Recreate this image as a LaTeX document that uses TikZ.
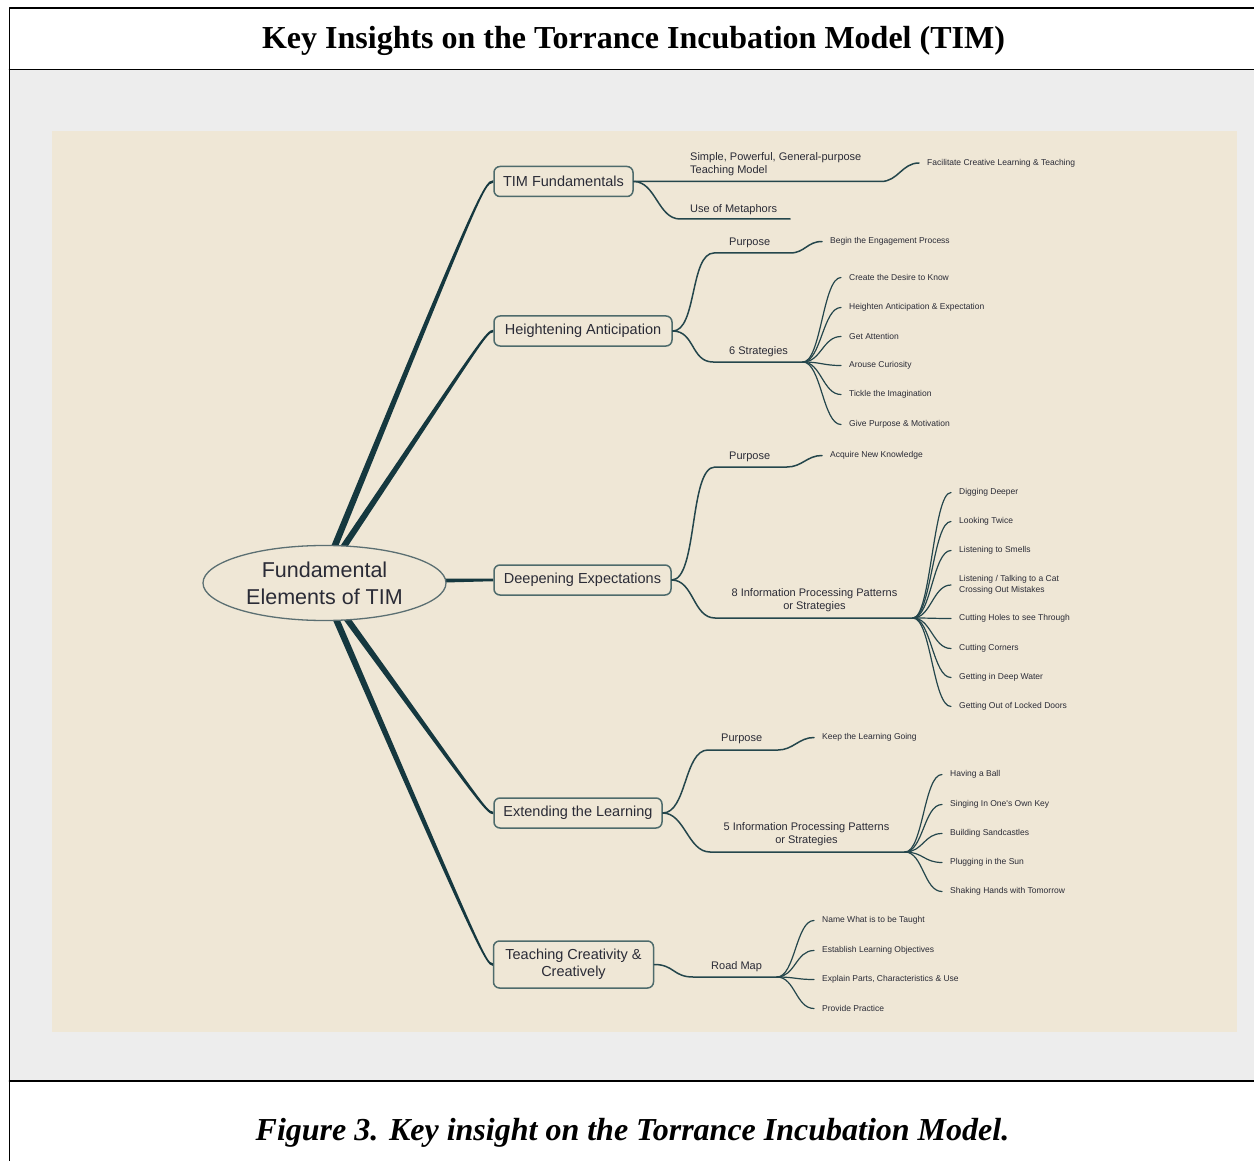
\documentclass[tikz,border=0pt]{standalone}
\usepackage{fontspec}
\setmainfont{Liberation Serif}
\newfontfamily\mmfont{Liberation Sans}
\usetikzlibrary{calc,shapes.geometric}

\definecolor{panelgray}{HTML}{EDEDED}
\definecolor{paper}{HTML}{EFE7D6}
\definecolor{trunkcol}{HTML}{15383F}
\definecolor{twigcol}{HTML}{24464C}
\definecolor{boxline}{HTML}{4E6B6C}
\definecolor{ellline}{HTML}{5B6F72}
\definecolor{inkcol}{HTML}{2A2B36}

\pgfdeclarelayer{background}
\pgfsetlayers{background,main}

% tapered main branch: origin, first control, second control, end
\newcommand\trunk[4]{%
  \fill[trunkcol]
    ($(#1)!3.4pt!90:(#2)$)
    .. controls ($(#2)!1.9pt!-90:(#1)$) and ($(#3)!1.4pt!90:(#4)$) ..
    ($(#4)!1.3pt!-90:(#3)$)
    -- ($(#4)!1.3pt!90:(#3)$)
    .. controls ($(#3)!1.4pt!-90:(#4)$) and ($(#2)!1.9pt!90:(#1)$) ..
    ($(#1)!3.4pt!-90:(#2)$) -- cycle;}

\tikzset{
  frame/.style={draw=black, line width=1.6pt},
  rootnode/.style={ellipse, draw=ellline, line width=1.3pt, fill=paper,
    minimum width=243pt, minimum height=75pt, inner sep=0pt, align=center,
    font=\mmfont\fontsize{21.5}{27}\selectfont, text=inkcol},
  box/.style={draw=boxline, line width=1.5pt, rounded corners=6pt, fill=paper,
    inner sep=0pt, minimum height=30pt, align=center,
    font=\mmfont\fontsize{14.5}{17}\selectfont, text=inkcol},
  lbl/.style={inner sep=0pt, font=\mmfont\fontsize{11}{13}\selectfont, text=inkcol},
  leaf/.style={anchor=west, inner xsep=8pt, inner ysep=0pt, align=left,
    font=\mmfont\fontsize{8.5}{11}\selectfont, text=inkcol},
  twig/.style={draw=twigcol, line width=1.5pt},
  leaftwig/.style={draw=twigcol, line width=1.2pt}
}

\begin{document}
\begin{tikzpicture}[x=1pt, y=-1pt, line cap=round, line join=round]
\useasboundingbox (0,0) rectangle (1254,1161);

\begin{pgfonlayer}{background}
  \fill[white] (0,0) rectangle (1254,1161);
  \fill[panelgray] (9.5,69.5) rectangle (1254,1081);
  \fill[paper] (52,131) rectangle (1237,1032);
\end{pgfonlayer}

% page frame
\draw[frame] (1254,8) -- (9.5,8) -- (9.5,1161);
\draw[frame] (9.5,69.5) -- (1254,69.5);
\draw[frame] (9.5,1081) -- (1254,1081);

\node[font=\fontsize{32}{36}\selectfont\bfseries] (title) at (633.5,40.5)
  {Key Insights on the Torrance Incubation Model (TIM)};
\node[font=\fontsize{32}{36}\selectfont\bfseries\itshape] (caption) at (632.5,1132.5)
  {Figure 3. Key insight on the Torrance Incubation Model.};

% central topic and main topics
\node[rootnode] (root) at (324.5,583) {Fundamental\\Elements of TIM};
\coordinate (hub) at (320,582);

\node[box, minimum width=139pt] (b1) at (563.5,181.5) {TIM Fundamentals};
\node[box, minimum width=178pt] (b2) at (583,331) {Heightening Anticipation};
\node[box, minimum width=177pt] (b3) at (582.5,580) {Deepening Expectations};
\node[box, minimum width=168pt] (b4) at (578,813) {Extending the Learning};
\node[box, minimum width=160pt, minimum height=47pt] (b5) at (573.5,964.5)
  {Teaching Creativity \&\\Creatively};

\begin{pgfonlayer}{background}
  \trunk{hub}{478,196}{484,181.5}{b1.west}
  \trunk{hub}{479,345}{486,331}{b2.west}
  \trunk{hub}{460,580.5}{480,580}{b3.west}
  \trunk{hub}{479,800}{486,813}{b4.west}
  \trunk{hub}{480,952}{486,964.5}{b5.west}
\end{pgfonlayer}

% subtopic labels
\node[lbl, anchor=west, align=left] (t1) at (690,164) {Simple, Powerful, General-purpose\\Teaching Model};
\node[lbl, anchor=west] (t2) at (690,209.5) {Use of Metaphors};
\node[lbl, anchor=west] (h1) at (729,242.5) {Purpose};
\node[lbl, anchor=west] (h2) at (729,351.5) {6 Strategies};
\node[lbl, anchor=west] (d1) at (729,456.5) {Purpose};
\node[lbl, align=center] (d2) at (814.5,600) {8 Information Processing Patterns\\or Strategies};
\node[lbl, anchor=west] (e1) at (721,738.5) {Purpose};
\node[lbl, align=center] (e2) at (806.5,834) {5 Information Processing Patterns\\or Strategies};
\node[lbl, anchor=west] (r1) at (711,966.5) {Road Map};

% underline ends and forks
\coordinate (t1a) at (881,181.5);
\coordinate (t2a) at (680,219);  \coordinate (t2b) at (790,219);
\coordinate (h1a) at (714,253);  \coordinate (h1b) at (790,253);
\coordinate (h2a) at (713,362);  \coordinate (h2f) at (803,362);
\coordinate (d1a) at (715,467);  \coordinate (d1b) at (787,467);
\coordinate (d2a) at (715,618);  \coordinate (d2f) at (913,618);
\coordinate (e1a) at (708,750);  \coordinate (e1b) at (778,750);
\coordinate (e2a) at (710,852);  \coordinate (e2f) at (905,852);
\coordinate (r1a) at (693,977);  \coordinate (r1f) at (777,977);

% leaves
\node[leaf] (l1) at (919,163) {Facilitate Creative Learning \& Teaching};

\node[leaf] (l2p) at (822,241.5) {Begin the Engagement Process};
\node[leaf] (l2a) at (841,277.5) {Create the Desire to Know};
\node[leaf] (l2b) at (841,307.5) {Heighten Anticipation \& Expectation};
\node[leaf] (l2c) at (841,336.5) {Get Attention};
\node[leaf] (l2d) at (841,365.5) {Arouse Curiosity};
\node[leaf] (l2e) at (841,394.5) {Tickle the Imagination};
\node[leaf] (l2f) at (841,424.5) {Give Purpose \& Motivation};

\node[leaf] (l3p) at (822,455.5) {Acquire New Knowledge};
\node[leaf] (l3a) at (951,492.5) {Digging Deeper};
\node[leaf] (l3b) at (951,521.5) {Looking Twice};
\node[leaf] (l3c) at (951,550.5) {Listening to Smells};
\node[leaf] (l3d) at (951,585) {Listening / Talking to a Cat\\Crossing Out Mistakes};
\node[leaf] (l3e) at (951,618.5) {Cutting Holes to see Through};
\node[leaf] (l3f) at (951,648.5) {Cutting Corners};
\node[leaf] (l3g) at (951,677.5) {Getting in Deep Water};
\node[leaf] (l3h) at (951,706.5) {Getting Out of Locked Doors};

\node[leaf] (l4p) at (814,737.5) {Keep the Learning Going};
\node[leaf] (l4a) at (942,774.5) {Having a Ball};
\node[leaf] (l4b) at (942,804.5) {Singing In One's Own Key};
\node[leaf] (l4c) at (942,833.5) {Building Sandcastles};
\node[leaf] (l4d) at (942,862.5) {Plugging in the Sun};
\node[leaf] (l4e) at (942,891.5) {Shaking Hands with Tomorrow};

\node[leaf] (l5a) at (814,920.5) {Name What is to be Taught};
\node[leaf] (l5b) at (814,950.5) {Establish Learning Objectives};
\node[leaf] (l5c) at (814,979.5) {Explain Parts, Characteristics \& Use};
\node[leaf] (l5d) at (814,1008.5) {Provide Practice};

% TIM Fundamentals branch
\draw[twig] (b1.east) -- (t1a) .. controls +(17,0) and +(-17,0) .. (l1.west);
\draw[twig] (b1.east) .. controls +(22,0) and +(-22,0) .. (t2a) -- (t2b);

% Heightening Anticipation branch
\draw[twig] (b2.east) .. controls +(24,0) and +(-24,0) .. (h1a) -- (h1b)
  .. controls +(15,0) and +(-15,0) .. (l2p.west);
\draw[twig] (b2.east) .. controls +(22,0) and +(-22,0) .. (h2a) -- (h2f);
\foreach \n in {l2a,l2b,l2c,l2d,l2e,l2f}
  \draw[leaftwig] (h2f) .. controls +(18,0) and +(-18,0) .. (\n.west);

% Deepening Expectations branch
\draw[twig] (b3.east) .. controls +(26,0) and +(-26,0) .. (d1a) -- (d1b)
  .. controls +(15,0) and +(-15,0) .. (l3p.west);
\draw[twig] (b3.east) .. controls +(22,0) and +(-22,0) .. (d2a) -- (d2f);
\foreach \n in {l3a,l3b,l3c,l3d,l3e,l3f,l3g,l3h}
  \draw[leaftwig] (d2f) .. controls +(18,0) and +(-18,0) .. (\n.west);

% Extending the Learning branch
\draw[twig] (b4.east) .. controls +(24,0) and +(-24,0) .. (e1a) -- (e1b)
  .. controls +(15,0) and +(-15,0) .. (l4p.west);
\draw[twig] (b4.east) .. controls +(22,0) and +(-22,0) .. (e2a) -- (e2f);
\foreach \n in {l4a,l4b,l4c,l4d,l4e}
  \draw[leaftwig] (e2f) .. controls +(18,0) and +(-18,0) .. (\n.west);

% Teaching Creativity & Creatively branch
\draw[twig] (b5.east) .. controls +(20,0) and +(-20,0) .. (r1a) -- (r1f);
\foreach \n in {l5a,l5b,l5c,l5d}
  \draw[leaftwig] (r1f) .. controls +(18,0) and +(-18,0) .. (\n.west);
\end{tikzpicture}
\end{document}
